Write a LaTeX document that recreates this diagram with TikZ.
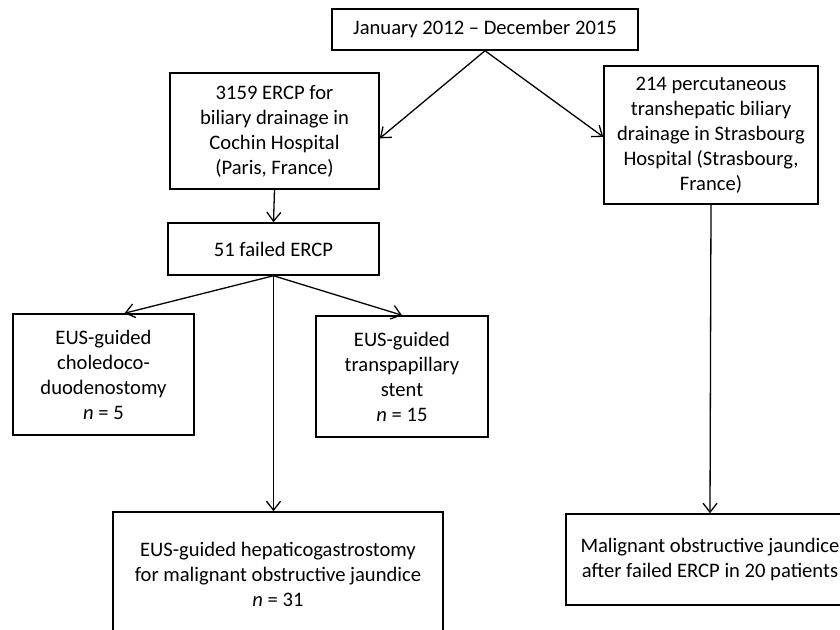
\documentclass[tikz,border=0pt]{standalone}
\usepackage{fontspec}
\setmainfont{Carlito}
\usetikzlibrary{arrows.meta}

\tikzset{
  box/.style={draw, line width=1.5pt, rectangle, align=center, inner sep=0pt,
    font=\fontsize{20.6}{25}\selectfont},
  flow/.style={line width=1.3pt, -{Straight Barb[length=9pt,width=14pt,line width=1.3pt]}}
}

\begin{document}
\begin{tikzpicture}[x=1pt,y=-1pt]
\useasboundingbox (0,0) rectangle (840,629);

\node[box, minimum width=306pt, minimum height=41pt] (period) at (485,29.5) {January 2012 -- December 2015};

\node[box, minimum width=209pt, minimum height=116pt] (cochin) at (274.5,131)
  {3159 ERCP for\\ biliary drainage in\\ Cochin Hospital\\ (Paris, France)};
\node[box, minimum width=214pt, minimum height=138pt] (strasb) at (711,135)
  {214 percutaneous\\ transhepatic biliary\\ drainage in Strasbourg\\ Hospital (Strasbourg,\\ France)};

\node[box, minimum width=211pt, minimum height=52pt] (failed) at (273.5,249) {51 failed ERCP};

\node[box, minimum width=181pt, minimum height=121pt] (cds) at (103.5,374.5)
  {EUS-guided\\ choledoco-\\ duodenostomy\\ \textit{n} = 5};
\node[box, minimum width=172pt, minimum height=121pt] (tps) at (402,376.5)
  {EUS-guided\\ transpapillary\\ stent\\ \textit{n} = 15};

\node[box, minimum width=330pt, minimum height=124pt] (hgs) at (278,574)
  {EUS-guided hepaticogastrostomy\\ for malignant obstructive jaundice\\ \textit{n} = 31};
\node[box, minimum width=288pt, minimum height=91pt] (mal) at (710,559.5)
  {Malignant obstructive jaundice\\ after failed ERCP in 20 patients};

\draw[flow] (period.south) -- (cochin.-4);
\draw[flow] (period.south) -- (strasb.181);
\draw[flow] (cochin.south) -- (failed.north);
\draw[flow] (failed.south) -- ([xshift=21pt]cds.north);
\draw[flow] (failed.south) -- (tps.north);
\draw[flow] (failed.south) -- (failed.south |- hgs.north);
\draw[flow] (strasb.south) -- (mal.north);
\end{tikzpicture}
\end{document}
